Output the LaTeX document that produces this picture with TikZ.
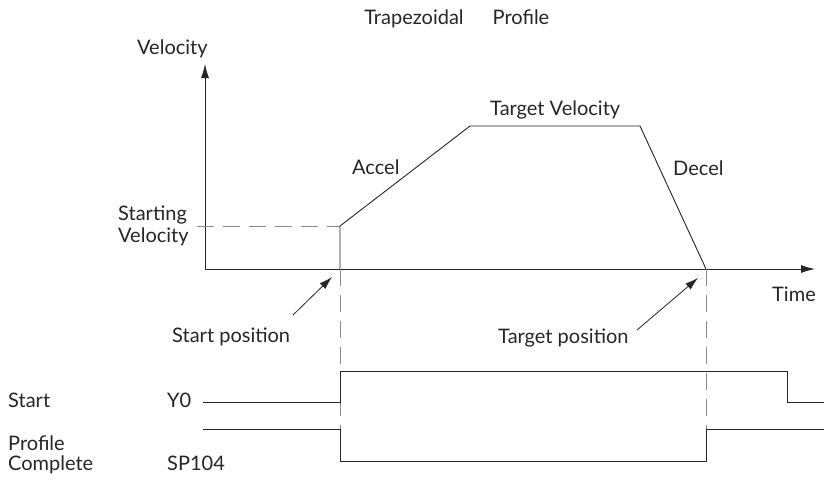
\documentclass[tikz,border=0pt]{standalone}
\usepackage{fontspec}
\setmainfont{Lato}
\usetikzlibrary{arrows.meta}
\begin{document}
\begin{tikzpicture}[x=1pt,y=-1pt,
  lbl/.style={anchor=base west,inner sep=0pt,font=\fontsize{20}{24}\selectfont,text=black!85},
  ln/.style={line width=0.9pt,draw=black!85},
  axis/.style={ln,-{Latex[length=14pt,width=8pt]}},
  pointer/.style={line width=0.8pt,draw=black!85,-{Latex[length=13pt,width=8pt]}},
  guide/.style={line width=0.9pt,draw=black!45,dash pattern=on 17pt off 9pt}]
\useasboundingbox (0,0) rectangle (824,480);
% key points
\coordinate (O) at (205,269);
\coordinate (Ytop) at (205,64);
\coordinate (Xend) at (815,269);
\coordinate (SVleft) at (197,226);
\coordinate (S) at (340,226);
\coordinate (S0) at (340,269);
\coordinate (A) at (470,126);
\coordinate (B) at (640,126);
\coordinate (E) at (706,269);
\coordinate (Sbot) at (340,429);
\coordinate (Ebot) at (706,429);
% axes
\draw[axis] (O) -- (Ytop);
\draw[axis] (O) -- (Xend);
% profile
\draw[guide] (SVleft) -- (S);
\draw[ln] (S0) -- (S) -- (A) -- (B) -- (E);
% vertical guides
\draw[guide] (S0) -- (Sbot);
\draw[guide] (E) -- (Ebot);
% texts
\node[lbl,anchor=base] (title1) at (414,24) {Trapezoidal};
\node[lbl,anchor=base] (title2) at (521,24) {Profile};
\node[lbl] (vel) at (137,54) {Velocity};
\node[lbl] (st1) at (118,220) {Starting};
\node[lbl] (st2) at (118,242) {Velocity};
\node[lbl] (accel) at (352,174) {Accel};
\node[lbl] (tv) at (490,115) {Target Velocity};
\node[lbl] (decel) at (673,175) {Decel};
\node[lbl] (time) at (772,301) {Time};
\node[lbl] (spos) at (172,342) {Start position};
\node[lbl] (tpos) at (498,343) {Target position};
\node[lbl] (start) at (8,407) {Start};
\node[lbl] (y0) at (167,407) {Y0};
\node[lbl] (pc1) at (8,450) {Profile};
\node[lbl] (pc2) at (8,470) {Complete};
\node[lbl] (sp) at (167,470) {SP104};
% pointers
\coordinate (p1t) at (293,315);
\coordinate (p1h) at (332,277);
\coordinate (p2t) at (637,330);
\coordinate (p2h) at (698,278);
\draw[pointer] (p1t) -- (p1h);
\draw[pointer] (p2t) -- (p2h);
% Start signal
\coordinate (s1) at (203,402);
\coordinate (s2) at (340,402);
\coordinate (s3) at (340,371);
\coordinate (s4) at (787,371);
\coordinate (s5) at (787,402);
\coordinate (s6) at (824,402);
\draw[ln] (s1) -- (s2) -- (s3) -- (s4) -- (s5) -- (s6);
% Profile complete signal
\coordinate (c1) at (203,429);
\coordinate (c2) at (340,429);
\coordinate (c3) at (340,461);
\coordinate (c4) at (706,461);
\coordinate (c5) at (706,429);
\coordinate (c6) at (824,429);
\draw[ln] (c1) -- (c2) -- (c3) -- (c4) -- (c5) -- (c6);
\end{tikzpicture}
\end{document}
